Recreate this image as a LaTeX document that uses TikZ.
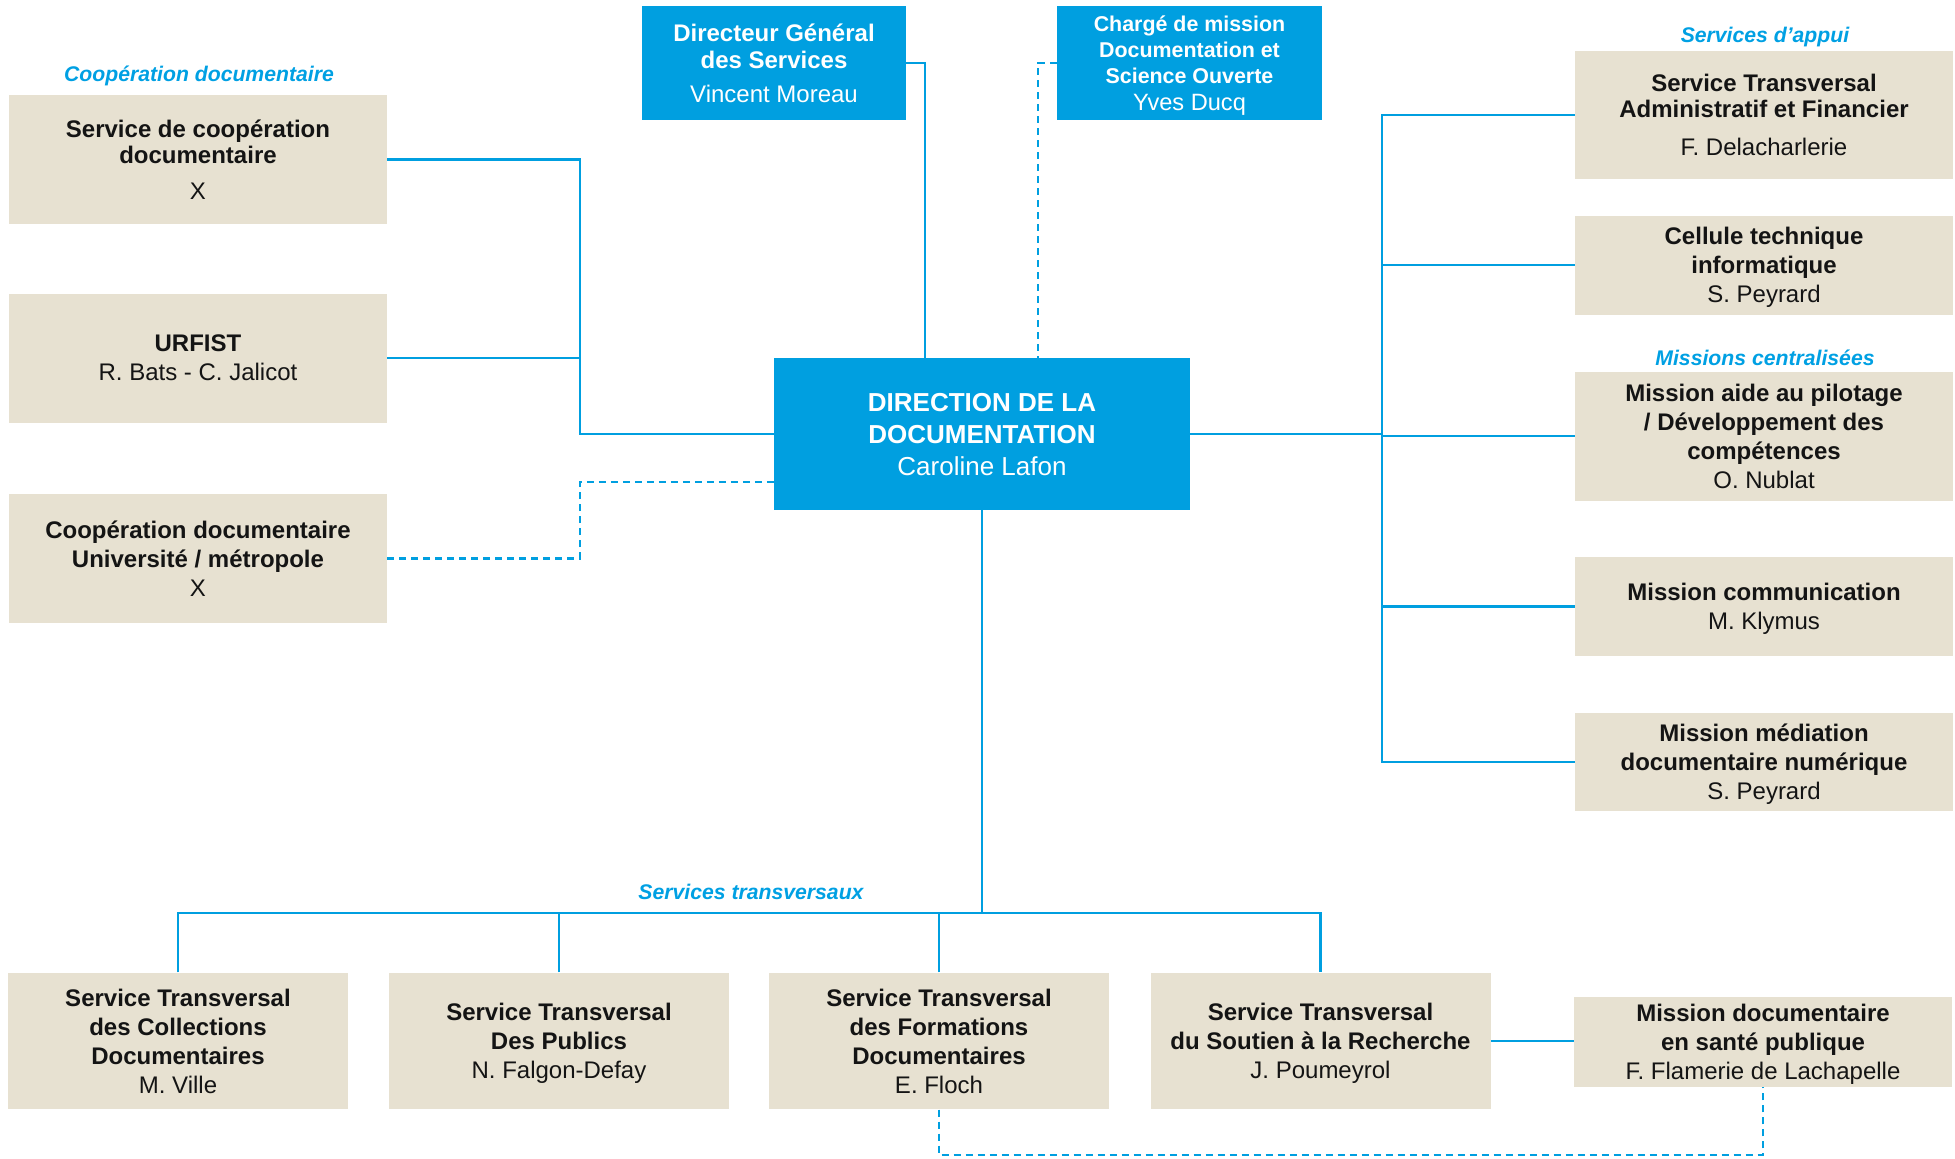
\documentclass[tikz,border=0pt]{standalone}
\usepackage{fontspec}
\setmainfont{Liberation Sans}
\definecolor{dblue}{HTML}{009FE0}
\definecolor{beige}{HTML}{E7E1D1}
\definecolor{lblue}{HTML}{00A0E3}
\definecolor{ink}{HTML}{141414}
\tikzset{
  box/.style={rectangle, fill=beige, inner sep=0pt, align=center, text=ink, text depth=0pt,
    font=\fontsize{12}{14.5}\selectfont},
  lbox/.style={box, minimum width=189pt, minimum height=64.5pt},
  rbox/.style={box, minimum width=189pt},
  bbox/.style={box, minimum width=170pt, minimum height=68.25pt},
  bluebox/.style={rectangle, fill=dblue, inner sep=0pt, align=center, text=white, text depth=0pt},
  lab/.style={text=lblue, font=\fontsize{10.6}{12}\selectfont\bfseries\itshape, anchor=base, inner sep=0pt},
  conn/.style={draw=dblue, line width=1.45pt},
  dconn/.style={draw=dblue, line width=1.2pt, dash pattern=on 3.5pt off 2.5pt},
}
\begin{document}
\begin{tikzpicture}[x=0.5pt, y=-0.5pt]
\useasboundingbox (0,0) rectangle (1955,1158);

% labels
\node[lab] (lcoop) at (199,81) {Coopération documentaire};
\node[lab] (lappui) at (1765,42) {Services d’appui};
\node[lab] (lmiss) at (1765,365.5) {Missions centralisées};
\node[lab] (ltrans) at (751,899) {Services transversaux};

% left column
\node[lbox, font=\fontsize{12}{13}\selectfont] (b1) at (198,159.5) {\textbf{Service de coopération}\\\textbf{documentaire}\\[5pt]X};
\node[lbox] (b2) at (198,358) {\textbf{URFIST}\\R. Bats - C. Jalicot};
\node[lbox] (b3) at (198,558.5) {\textbf{Coopération documentaire}\\\textbf{Université / métropole}\\X};

% top blue boxes
\node[bluebox, minimum width=132pt, minimum height=57pt, font=\fontsize{12}{13.5}\selectfont] (dgs) at (774,63)
  {\textbf{Directeur Général}\\\textbf{des Services}\\[3.5pt]Vincent Moreau};
\node[bluebox, minimum width=132.5pt, minimum height=57pt, font=\fontsize{10.7}{13.1}\selectfont] (cm) at (1189.5,63)
  {\textbf{Chargé de mission}\\\textbf{Documentation et}\\\textbf{Science Ouverte}\\{\fontsize{11.8}{13.1}\selectfont Yves Ducq}};

% center
\node[bluebox, minimum width=208pt, minimum height=76pt, font=\fontsize{13}{16}\selectfont] (dir) at (982,434)
  {\textbf{DIRECTION DE LA}\\\textbf{DOCUMENTATION}\\Caroline Lafon};

% right column
\node[rbox, minimum height=64.25pt, font=\fontsize{12}{13}\selectfont] (r1) at (1764,115) {\textbf{Service Transversal}\\\textbf{Administratif et Financier}\\[5.8pt]F. Delacharlerie};
\node[rbox, minimum height=49.5pt] (r2) at (1764,265) {\textbf{Cellule technique}\\\textbf{informatique}\\S. Peyrard};
\node[rbox, minimum height=64.5pt] (r3) at (1764,436) {\textbf{Mission aide au pilotage}\\\textbf{/ Développement des}\\\textbf{compétences}\\O. Nublat};
\node[rbox, minimum height=49.5pt] (r4) at (1764,606.5) {\textbf{Mission communication}\\M. Klymus};
\node[rbox, minimum height=49.25pt] (r5) at (1764,762) {\textbf{Mission médiation}\\\textbf{documentaire numérique}\\S. Peyrard};
\node[rbox, minimum height=45pt] (r6) at (1763,1042) {\textbf{Mission documentaire}\\\textbf{en santé publique}\\F. Flamerie de Lachapelle};

% bottom row
\node[bbox] (s1) at (178,1041) {\textbf{Service Transversal}\\\textbf{des Collections}\\\textbf{Documentaires}\\M. Ville};
\node[bbox] (s2) at (559,1041) {\textbf{Service Transversal}\\\textbf{Des Publics}\\N. Falgon-Defay};
\node[bbox] (s3) at (939,1041) {\textbf{Service Transversal}\\\textbf{des Formations}\\\textbf{Documentaires}\\E. Floch};
\node[bbox] (s4) at (1320.5,1041) {\textbf{Service Transversal}\\\textbf{du Soutien à la Recherche}\\J. Poumeyrol};

% junction coordinates
\coordinate (jl) at (580,434);
\coordinate (jd) at (580,482);
\coordinate (jr) at (1382,434);
\coordinate (jb) at (982,913);
\coordinate (jbot) at (0,1155);

% left connectors
\draw[conn] (b1.east) -| (jl) -- (dir.west);
\draw[conn] (b2.east) -- (b2.east -| jl);
\draw[dconn] (b3.east) -| (jd) -- (dir.west |- jd);

% top connectors
\draw[conn] (dgs.east) -| ([xshift=-28.5pt]dir.north);
\draw[dconn] (cm.west) -| ([xshift=28pt]dir.north);

% right connectors
\draw[conn] (dir.east) -- (jr);
\draw[conn] (r1.west) -| (r5.west -| jr) -- (r5.west);
\foreach \n in {r2,r3,r4} \draw[conn] (\n.west) -- (\n.west -| jr);

% bottom connectors
\draw[conn] (dir.south) -- (dir.south |- jb);
\draw[conn] (s1.north) |- (s4.north |- jb) -- (s4.north);
\draw[conn] (s2.north) -- (s2.north |- jb);
\draw[conn] (s3.north) -- (s3.north |- jb);
\draw[conn] (s4.east) -- (s4.east -| r6.west);
\draw[dconn] (s3.south) |- (r6.south |- jbot) -- (r6.south);
\end{tikzpicture}
\end{document}
